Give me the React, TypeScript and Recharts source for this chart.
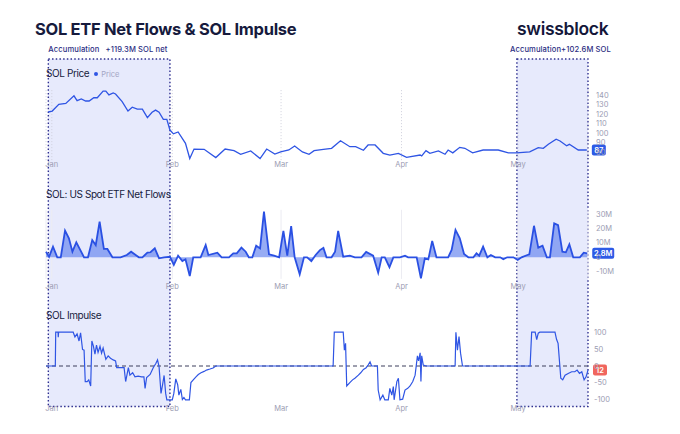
import React from "react";
import {
  Area,
  AreaChart,
  CartesianGrid,
  ComposedChart,
  Line,
  LineChart,
  ReferenceArea,
  ReferenceDot,
  ReferenceLine,
  XAxis,
  YAxis,
} from "recharts";

// x is the day index: 0 = Dec 31, 1 = Jan 1 ...
const MONTH_TICKS = [1, 32, 60, 91, 121];
const MONTH_LABELS = ["Jan", "Feb", "Mar", "Apr", "May"];
const DAY_DOMAIN: [number, number] = [-0.5, 139];

// SOL price, USD
const PRICE: [number, number][] = [
  [0.1, 127], [1.1, 128], [2.8, 135], [4.6, 136], [6.7, 144], [7.5, 139], [8.6, 140.7],
  [9.7, 138.6], [10.6, 138.6], [11.8, 142], [12.7, 142], [14.2, 149], [14.9, 149],
  [15.7, 145], [16.8, 147], [17.4, 146], [19.1, 138], [20.6, 128], [21.7, 132], [23, 130],
  [24.3, 130], [25.6, 121], [26.8, 126.7], [27.7, 129], [28.6, 126.7], [29.7, 119.3],
  [30.6, 119.3], [31.4, 108], [32.3, 104], [33.5, 106], [35.4, 94], [36.5, 78], [37.6, 88],
  [40.2, 87.7], [43.2, 79], [45.6, 88], [47.9, 86.3], [49.6, 82.5], [52.2, 86], [54.6, 78],
  [56.3, 88], [58.4, 82.8], [59.9, 85], [62, 87], [63.5, 91.2], [65.5, 85], [67.2, 82.5],
  [68.5, 86.3], [70.9, 87.7], [73, 88.8], [75.3, 96.8], [77.7, 90.5], [79.2, 90.5],
  [81.2, 86.7], [82.4, 92.3], [84.2, 92.3], [86.3, 83.5], [88, 81.7], [90.2, 83.5],
  [92.3, 79.3], [95.8, 81.7], [96.2, 80.7], [97.3, 86.3], [98.3, 83.5], [100.5, 86],
  [102.2, 82.5], [103, 87], [104.2, 84], [106, 89.8], [107.3, 88.8], [109.3, 84], [112, 87],
  [115.9, 87], [118.5, 84], [120.6, 84], [124, 85], [126.2, 89.4], [127.5, 88.8], [128.8, 93],
  [130.8, 98.3], [131.8, 96.5], [133.5, 91.5], [134.2, 93], [136.5, 87], [138.7, 87],
];
const PRICE_TICKS = [80, 90, 100, 110, 120, 130, 140];

// US spot ETF net flows, $M
const FLOWS: [number, number][] = [
  [-0.5, 3.9], [0.3, 0.4], [1.3, 7.4], [2.4, 0], [3.3, 0], [4.4, 18.5], [5.4, 13.2], [6.3, 3.9],
  [7.3, 10.4], [9.3, 0], [10.3, 0], [11.4, 12], [12.3, 8.5], [13.3, 24.7], [14.4, 5.8],
  [15.3, 5.8], [16.6, 0], [18.7, 0], [20.3, 1.6], [21.4, 3.9], [23.4, 0], [24.3, 0],
  [25.6, 3.2], [26.4, 3.5], [27.5, 6.2], [28.6, -0.7], [29.9, 0], [31.4, 0.4], [32.4, -5.3],
  [33.5, 1.1], [34.6, -2.6], [35.4, -1.4], [36.5, -13], [37.4, 0], [39.3, 0], [40.6, 8.5],
  [41.3, 1.6], [43.6, 3.2], [44.7, 0], [46.6, 0], [47.7, 2.8], [48.6, 2.8], [49.8, 6.7],
  [50.9, 3.9], [51.7, 0], [52.6, 0], [53.6, 8.1], [54.6, 6.2], [55.6, 31.7], [56.9, 2.1],
  [58.2, 1.1], [59.5, 0], [60.6, 18.3], [61.6, 1.1], [62.6, 21.7], [63.5, 0], [64.8, -11.8],
  [65.9, 0], [66.7, 0], [67.8, -2.6], [68.9, 1.6], [70, 5], [70.9, 6.5], [71.7, 0], [73, 0],
  [73.9, 3.9], [74.7, 18.3], [76, 0.4], [77.7, 1.1], [79, 0], [80.7, 0], [81.9, 3.7],
  [83.7, 1.1], [85, -10.7], [85.9, 0], [86.7, 0], [87.9, -6.9], [88.9, 0], [90.6, 0],
  [91.9, 1.1], [92.7, 0], [94.9, 0], [96, -14.6], [97, -0.7], [97.9, -1.4], [98.9, 11.3],
  [100, 0], [103, 0], [103.9, 5.1], [104.9, 19], [106, 13.2], [107.1, 2.3], [108.2, 0],
  [109.5, 0], [110.3, 2.8], [111, 1.1], [112, 7.4], [113.1, 0], [114, 1.6], [115.1, 0],
  [116.4, 0], [117.2, -1.4], [118.2, 0], [119.8, 0], [120.9, -1.9], [121.9, 0], [123.4, 1.6],
  [123.9, 2.1], [125.1, 21.9], [126.2, 6.7], [127.3, 8.1], [128.4, 0], [129.2, 0],
  [130.3, 23.6], [131.3, 22.4], [132.4, 3.9], [133.3, 3.5], [134.2, 9], [135.2, 0],
  [136.9, 0], [137.9, 3.2], [138.8, 2.8],
];
const FLOW_TICKS = [-10, 0, 10, 20, 30];

// SOL impulse, -100..100
const IMPULSE: [number, number][] = [
  [-0.5, 0], [1.9, 0], [2, 100], [2.6, 100], [2.65, 85], [2.75, 100], [6.5, 100], [6.95, 86],
  [7.5, 95], [8, 74], [8.4, 98], [8.9, 49], [9.3, 47], [9.6, -46], [10.1, -46], [10.5, -41],
  [11, -59], [11.3, 74], [11.7, 59], [12.1, 35], [12.5, 62], [12.9, 40], [13.4, 58],
  [13.8, 38], [14.2, 53], [14.9, 20], [15.5, 30], [16.1, 23], [16.8, 18], [17.4, 15],
  [17.7, -5], [19.6, -5], [20, -46], [20.7, -5], [21.1, -27], [21.8, -20], [22.4, -32],
  [23.2, -30], [24.1, -32], [24.7, -32], [25, -66], [25.4, -34], [26.3, -25], [27.1, -5],
  [27.8, 8], [28.2, 18], [28.6, -2], [29.1, -81], [29.5, -56], [29.9, -28], [30.3, -81],
  [30.6, -100], [32, -100], [32.4, -81], [32.9, -38], [33.4, -56], [33.7, -86], [34.2, -69],
  [34.6, -99], [35, -93], [35.4, -100], [36.4, -100], [36.8, -49], [37.4, -41], [38.1, -32],
  [38.7, -25], [39.4, -20], [40.2, -16], [40.8, -12], [41.7, -9], [42.5, -6], [43.2, 0],
  [73.4, 0], [73.7, 100], [76, 100], [76.3, 47], [76.6, 67], [76.9, -59], [77.7, -49],
  [78.4, -41], [79, -36], [79.9, -27], [80.5, -20], [81.2, -10], [81.9, -5], [82.4, 3],
  [82.9, 12], [83.3, 0], [84.8, 0], [85, -71], [85.5, -100], [86.2, -86], [86.7, -100],
  [87.6, -100], [88, -66], [88.5, -86], [88.9, -61], [89.1, -100], [89.8, -46], [90.2, -36],
  [90.6, -100], [91.3, -98], [91.9, -71], [92.6, -66], [93.2, -59], [93.9, -46], [94.5, -27],
  [95.1, 30], [95.4, 15], [95.8, 39], [96, -46], [96.2, 30], [96.6, 3], [97.3, 0], [104.8, 0],
  [105, 100], [105.4, 47], [105.8, 87], [106.2, 38], [106.7, 0], [124.1, 0], [124.5, 100],
  [125.4, 100], [125.8, 78], [126.2, 97], [126.6, 100], [130.5, 100], [130.9, 79], [131.3, 67],
  [132, -36], [132.5, -41], [133.1, -27], [133.9, -22], [134.8, -17], [135.6, -17],
  [136.2, -12], [136.8, -22], [137.4, -17], [138, -41], [138.5, -32], [139, -12],
];
const IMPULSE_TICKS = [-100, -50, 0, 50, 100];

const ACCUMULATION = [
  { from: 0.1, to: 31.4, label: "Accumulation", net: "+119.3M SOL net" },
  { from: 120.7, to: 139, label: "Accumulation", net: "+102.6M SOL" },
];

const FONT = "Inter, 'Noto Sans', sans-serif";
const INK = "#161a3d";
const BLUE = "#2f55e4";
const TICK = "#9c9db3";

const W = 680;
const H = 434;
const PLOT_LEFT = 46;
const PLOT_RIGHT = 588;
const AXIS_W = 40;
const XAXIS_H = 20;

function margin(top: number, bottom: number) {
  return { top, bottom: H - bottom - XAXIS_H, left: PLOT_LEFT, right: W - PLOT_RIGHT - AXIS_W };
}

const layer: React.CSSProperties = { position: "absolute", left: 0, top: 0 };

function MonthTick(props: any) {
  const { x, y, payload, dy } = props;
  return (
    <text x={x} y={y + dy} textAnchor="middle" dominantBaseline="central" fontSize={7.5} fill={TICK} fontFamily={FONT}>
      {MONTH_LABELS[MONTH_TICKS.indexOf(payload.value)]}
    </text>
  );
}

function ValueTick(props: any) {
  const { x, y, payload, dy = 0, fmt } = props;
  return (
    <text x={x} y={y + dy} textAnchor="start" dominantBaseline="central" fontSize={7.5} fill={TICK} fontFamily={FONT}>
      {fmt ? fmt(payload.value) : payload.value}
    </text>
  );
}

function Badge({ cx, cy, text, color, w }: { cx: number; cy: number; text: string; color: string; w: number }) {
  return (
    <g>
      <rect x={cx + 5} y={cy - 5.5} width={w} height={11} rx={2} fill={color} />
      <text x={cx + 5 + w / 2} y={cy + 0.5} textAnchor="middle" dominantBaseline="central" fontSize={7.5} fontWeight={600} fill="#fff" fontFamily={FONT}>
        {text}
      </text>
    </g>
  );
}

function AccLabel({ viewBox, label, net }: any) {
  if (!viewBox) return null;
  const { x, y, width } = viewBox;
  const common = { fontSize: 7.6, fontWeight: 500, fill: "#2b2d82", fontFamily: FONT, letterSpacing: 0.1 };
  if (width > 100) {
    return (
      <g>
        <text x={x} y={y - 7.3} textAnchor="start" {...common}>{label}</text>
        <text x={x + width - 2.5} y={y - 7.3} textAnchor="end" {...common}>{net}</text>
      </g>
    );
  }
  // narrow window: the two parts run together, nudged right
  return (
    <text x={x + width / 2 + 8} y={y - 7.3} textAnchor="middle" {...common}>
      {label}
      {net}
    </text>
  );
}

const fmtFlow = (v: number) => (v === 0 ? "0" : `${v}M`);

const titleStyle = (top: number, size: number): React.CSSProperties => ({
  position: "absolute",
  left: 46,
  top,
  fontSize: size,
  lineHeight: 1.2,
  fontFamily: FONT,
  color: INK,
  letterSpacing: -0.4,
  whiteSpace: "nowrap",
});

export default function App() {
  const priceData = PRICE.map(([day, price]) => ({ day, price }));
  const flowData = FLOWS.map(([day, flow]) => ({ day, flow }));
  const impulseData = IMPULSE.map(([day, impulse]) => ({ day, impulse }));
  const lastPrice = PRICE[PRICE.length - 1];
  const lastFlow = FLOWS[FLOWS.length - 1];
  const lastImpulse = IMPULSE[IMPULSE.length - 1];

  const xAxis = (dy: number) => (
    <XAxis
      dataKey="day"
      type="number"
      domain={DAY_DOMAIN}
      ticks={MONTH_TICKS}
      interval={0}
      axisLine={false}
      tickLine={false}
      tickSize={0}
      tickMargin={0}
      height={XAXIS_H}
      tick={(p: any) => <MonthTick {...p} dy={dy} />}
    />
  );

  const yAxis = (domain: [number, number], ticks: number[], tickMargin: number, tick: (p: any) => React.ReactElement) => (
    <YAxis
      orientation="right"
      width={AXIS_W}
      domain={domain}
      ticks={ticks}
      interval={0}
      axisLine={false}
      tickLine={false}
      tickSize={0}
      tickMargin={tickMargin}
      tick={tick}
    />
  );

  return (
    <div style={{ position: "absolute", left: 0, top: 0, width: W, height: H, background: "#fff", overflow: "hidden" }}>
      {/* accumulation windows, spanning all three panels */}
      <div style={layer}>
        <ComposedChart width={W} height={H} data={priceData} margin={{ top: 59, bottom: 27.5, left: PLOT_LEFT, right: W - PLOT_RIGHT }}>
          <XAxis dataKey="day" type="number" domain={DAY_DOMAIN} hide />
          <YAxis yAxisId="box" domain={[0, 1]} allowDataOverflow hide />
          <YAxis yAxisId="p" domain={[0, 200]} hide />
          <Line yAxisId="p" dataKey="price" stroke="none" dot={false} isAnimationActive={false} />
          {ACCUMULATION.map((a) => (
            <ReferenceArea
              key={a.from}
              yAxisId="box"
              x1={a.from}
              x2={a.to}
              y1={0}
              y2={1}
              fill="#e7eafc"
              fillOpacity={1}
              stroke="#2e2f8f"
              strokeWidth={1.4}
              strokeDasharray="1.5 2.2"
              ifOverflow="visible"
              label={{ content: (p: any) => <AccLabel viewBox={p.viewBox} label={a.label} net={a.net} /> }}
            />
          ))}
        </ComposedChart>
      </div>

      {/* SOL price */}
      <div style={layer}>
        <LineChart width={W} height={H} data={priceData} margin={margin(90.15, 161.4)}>
          <CartesianGrid vertical horizontal={false} stroke="#cfd0dc" strokeDasharray="1 2" />
          {xAxis(3)}
          {yAxis([75, 150], PRICE_TICKS, 8, (p: any) => <ValueTick {...p} dy={-4.5} />)}
          <Line type="linear" dataKey="price" stroke={BLUE} strokeWidth={1.3} dot={false} isAnimationActive={false} />
          <ReferenceDot
            x={lastPrice[0]}
            y={lastPrice[1]}
            r={0}
            ifOverflow="visible"
            shape={(p: any) => <Badge cx={p.cx} cy={p.cy} text={String(lastPrice[1])} color="#2d5ae6" w={14} />}
          />
        </LineChart>
      </div>

      {/* ETF net flows */}
      <div style={layer}>
        <AreaChart width={W} height={H} data={flowData} margin={margin(209.8, 278.9)}>
          <CartesianGrid vertical horizontal={false} stroke="#ececf2" />
          {xAxis(7.6)}
          {yAxis([-15, 33], FLOW_TICKS, 8, (p: any) => <ValueTick {...p} fmt={fmtFlow} />)}
          <Area
            type="linear"
            dataKey="flow"
            stroke="#2a50e3"
            strokeWidth={1.8}
            fill="#6f8cf0"
            fillOpacity={0.72}
            dot={false}
            isAnimationActive={false}
          />
          <ReferenceDot
            x={lastFlow[0]}
            y={lastFlow[1]}
            r={0}
            ifOverflow="visible"
            shape={(p: any) => <Badge cx={p.cx} cy={p.cy} text={`${lastFlow[1]}M`} color="#2d5ae6" w={22} />}
          />
        </AreaChart>
      </div>

      {/* SOL impulse */}
      <div style={layer}>
        <LineChart width={W} height={H} data={impulseData} margin={margin(328.8, 403.2)}>
          {xAxis(5.1)}
          {yAxis([-110, 110], IMPULSE_TICKS, 6, (p: any) => <ValueTick {...p} />)}
          <ReferenceLine y={0} stroke="#3d3f5c" strokeWidth={1} strokeDasharray="4 3" />
          <Line type="linear" dataKey="impulse" stroke={BLUE} strokeWidth={1.2} dot={false} isAnimationActive={false} />
          <ReferenceDot
            x={lastImpulse[0]}
            y={lastImpulse[1]}
            r={0}
            ifOverflow="visible"
            shape={(p: any) => <Badge cx={p.cx} cy={p.cy} text={String(Math.abs(lastImpulse[1]))} color="#f0665e" w={14} />}
          />
        </LineChart>
      </div>

      {/* header */}
      <div style={{ ...titleStyle(20, 16.5), left: 35, fontWeight: 700, letterSpacing: -0.3 }}>
        SOL ETF Net Flows &amp; SOL Impulse
      </div>
      <div style={{ ...titleStyle(17.5, 17.5), left: 517, fontWeight: 600, letterSpacing: -0.3, color: "#14173a" }}>swissblock</div>

      {/* panel titles */}
      <div style={titleStyle(66.8, 10)}>
        SOL Price
        <span style={{ marginLeft: 5, fontSize: 7.5, color: "#a3a5c4", letterSpacing: 0 }}>
          <span style={{ display: "inline-block", width: 4, height: 4, borderRadius: 2, background: BLUE, marginRight: 3, verticalAlign: 1 }} />
          Price
        </span>
      </div>
      <div style={titleStyle(187.9, 10)}>SOL: US Spot ETF Net Flows</div>
      <div style={titleStyle(309.2, 10)}>SOL Impulse</div>
    </div>
  );
}
